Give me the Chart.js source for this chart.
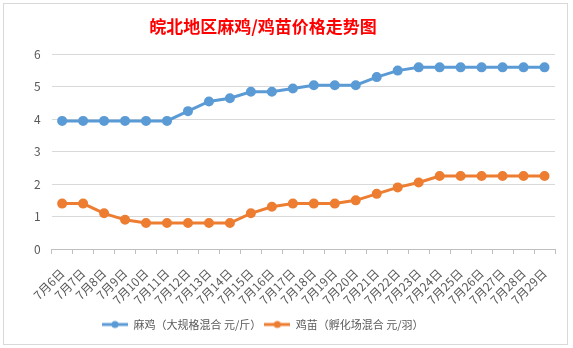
<!DOCTYPE html>
<html>
<head>
<meta charset="utf-8">
<script src="https://cdn.jsdelivr.net/npm/chart.js@4"></script>
<style>
  html, body { margin: 0; padding: 0; background: #fff; }
  #wrap { position: absolute; left: 3px; top: 3px; width: 565px; height: 342px; border: 1px solid #d9d9d9; box-sizing: border-box; }
</style>
</head>
<body>
<div id="wrap"><canvas id="chartCanvas"></canvas></div>
<script>
// --- data ---
const days = ["7月6日", "7月7日", "7月8日", "7月9日", "7月10日", "7月11日", "7月12日", "7月13日",
  "7月14日", "7月15日", "7月16日", "7月17日", "7月18日", "7月19日", "7月20日", "7月21日",
  "7月22日", "7月23日", "7月24日", "7月25日", "7月26日", "7月27日", "7月28日", "7月29日"];
const maji = [3.95, 3.95, 3.95, 3.95, 3.95, 3.95, 4.25, 4.55, 4.65, 4.85, 4.85, 4.95,
  5.05, 5.05, 5.05, 5.3, 5.5, 5.6, 5.6, 5.6, 5.6, 5.6, 5.6, 5.6];
const jimiao = [1.4, 1.4, 1.1, 0.9, 0.8, 0.8, 0.8, 0.8, 0.8, 1.1, 1.3, 1.4,
  1.4, 1.4, 1.5, 1.7, 1.9, 2.05, 2.25, 2.25, 2.25, 2.25, 2.25, 2.25];
const seriesNames = ["麻鸡（大规格混合 元/斤）", "鸡苗（孵化场混合 元/羽）"];
const colors = ["#5B9BD5", "#ED7D31"];

const font = "'Noto Sans CJK SC', 'Noto Sans', sans-serif";

// small line+dot swatch for the legend
function swatch(color) {
  const c = document.createElement("canvas");
  c.width = 26; c.height = 10;
  const g = c.getContext("2d");
  g.strokeStyle = color; g.lineWidth = 3;
  g.beginPath(); g.moveTo(0, 5); g.lineTo(26, 5); g.stroke();
  g.fillStyle = color;
  g.beginPath(); g.arc(13, 5, 3.5, 0, Math.PI * 2); g.fill();
  return c;
}

// excel puts title and legend a bit left of centre
const nudge = {
  id: "nudge",
  afterLayout(chart) {
    chart.titleBlock.left -= 26; chart.titleBlock.right -= 26;
    chart.legend.left += 76; chart.legend.right += 76;
  }
};

const mkSet = (label, data, color) => ({
  label, data,
  borderColor: color, backgroundColor: color,
  borderWidth: 3, pointRadius: 3.5, pointHoverRadius: 3.5,
  tension: 0
});

new Chart(document.getElementById("chartCanvas"), {
  type: "line",
  data: {
    labels: days,
    datasets: [mkSet(seriesNames[0], maji, colors[0]), mkSet(seriesNames[1], jimiao, colors[1])]
  },
  plugins: [nudge],
  options: {
    responsive: true,
    maintainAspectRatio: false,
    animation: false,
    layout: { padding: { left: 19, right: 12, top: 0, bottom: 4 } },
    plugins: {
      title: {
        display: true,
        text: "皖北地区麻鸡/鸡苗价格走势图",
        color: "#FF0000",
        font: { family: font, size: 17, weight: "bold" },
        padding: { top: 12, bottom: 18 }
      },
      legend: {
        position: "bottom",
        align: "start",
        labels: {
          color: "#595959",
          font: { family: font, size: 11 },
          usePointStyle: true,
          pointStyleWidth: 26,
          padding: 3,
          generateLabels: chart => chart.data.datasets.map((ds, i) => ({
            text: ds.label,
            fontColor: "#595959",
            pointStyle: swatch(colors[i]),
            datasetIndex: i,
            lineWidth: 0,
            strokeStyle: "transparent",
            fillStyle: "transparent"
          }))
        }
      },
      tooltip: { enabled: false }
    },
    scales: {
      x: {
        offset: true,
        grid: { drawOnChartArea: false, drawTicks: true, tickLength: 5, color: "#bfbfbf", offset: true },
        border: { color: "#bfbfbf" },
        ticks: { color: "#595959", font: { family: font, size: 12 }, minRotation: 45, maxRotation: 45, padding: 12, autoSkip: false },
        afterFit(scale) {
          scale.height = 67;
          scale.paddingLeft = 0;
          scale.paddingRight = 0;
        }
      },
      y: {
        min: 0, max: 6,
        grid: { color: "#d9d9d9", drawTicks: false },
        border: { display: false },
        ticks: { stepSize: 1, color: "#595959", font: { family: font, size: 12 }, padding: 11 }
      }
    }
  }
});
</script>
</body>
</html>
